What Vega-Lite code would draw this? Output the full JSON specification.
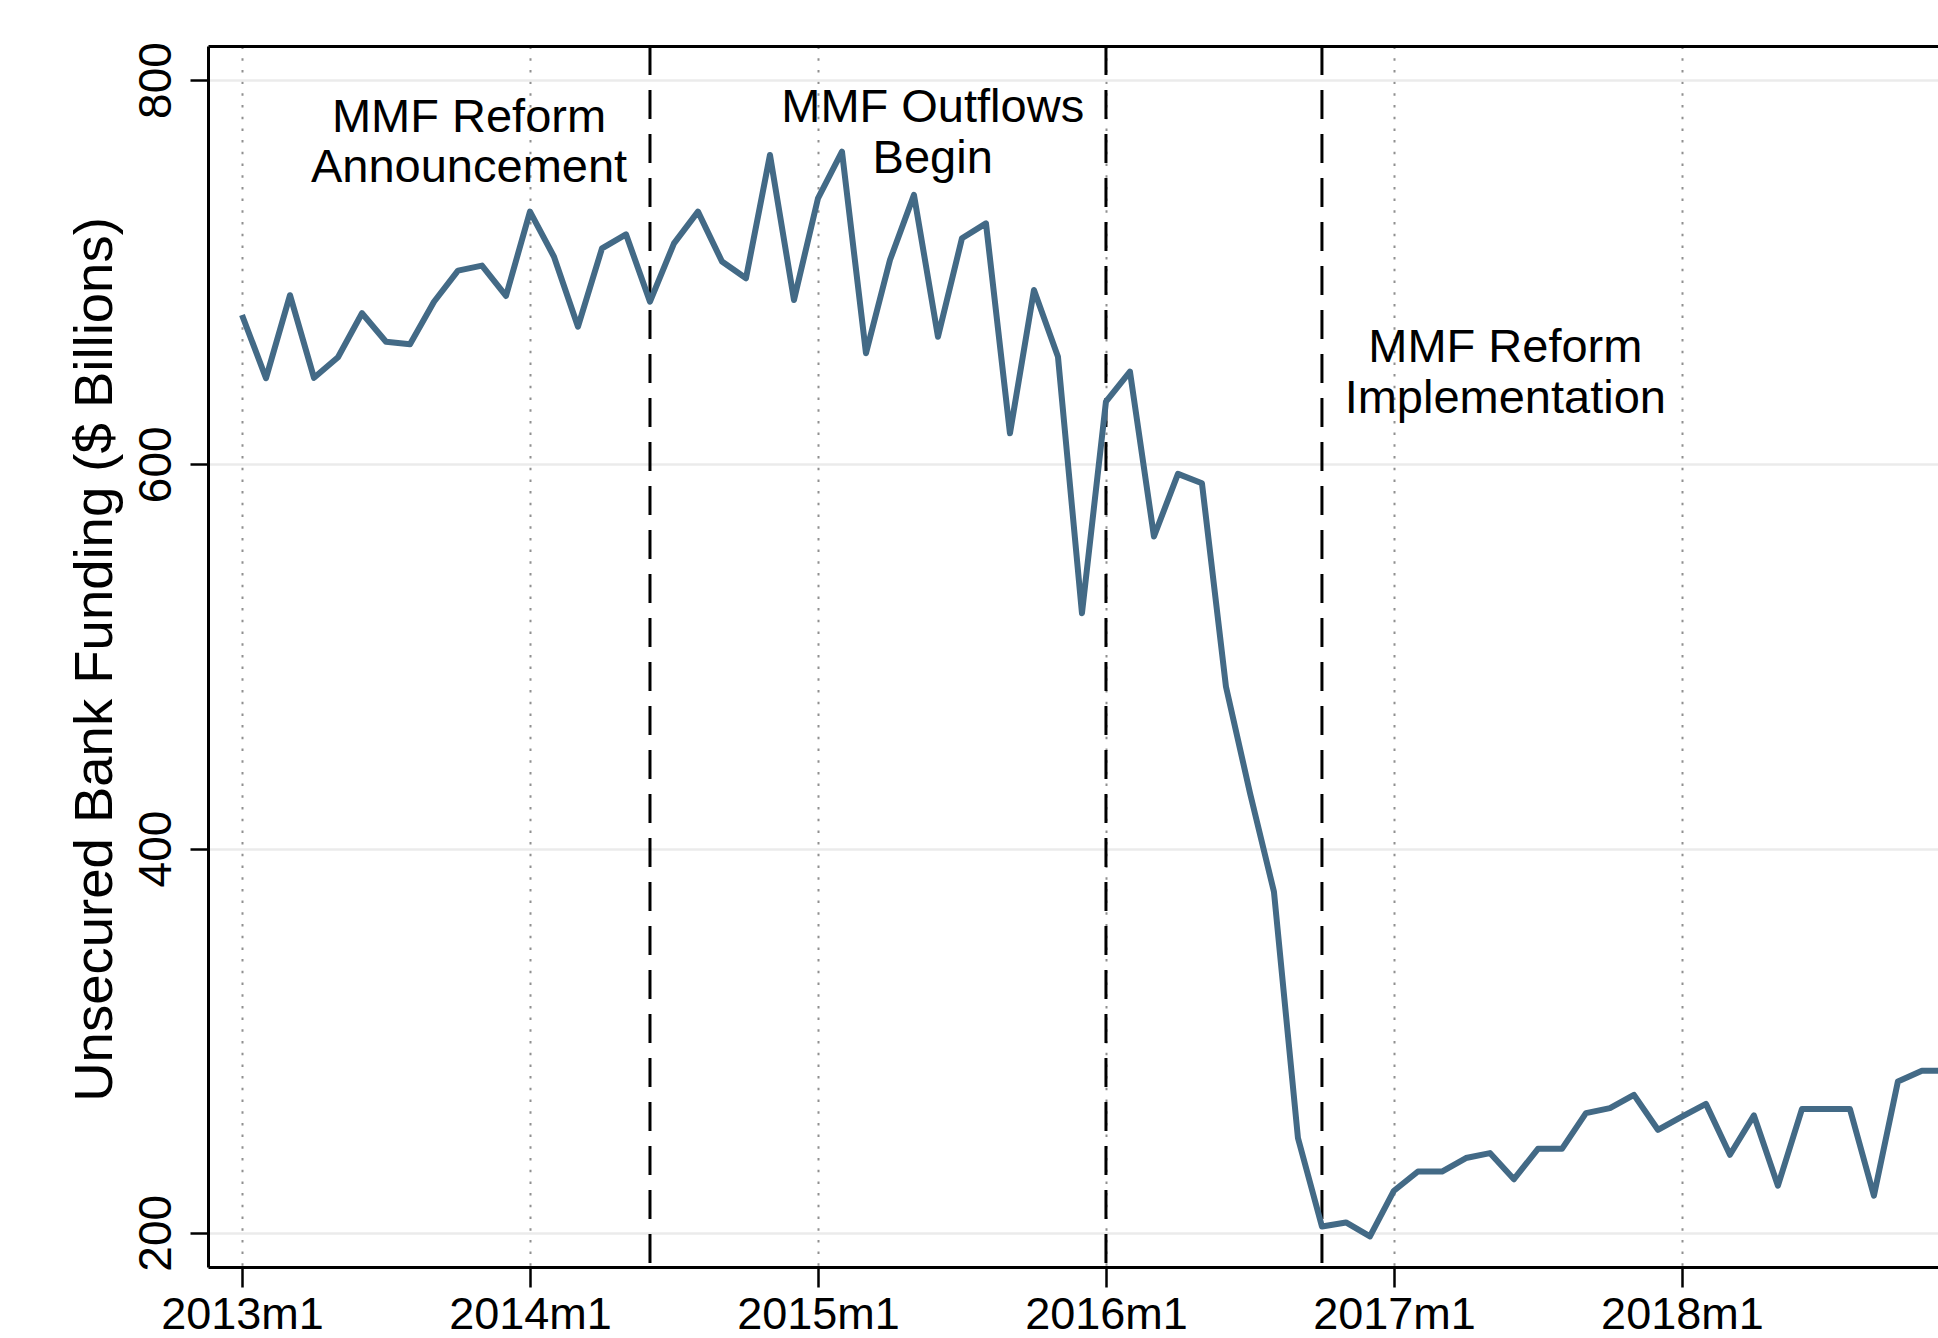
{
  "$schema": "https://vega.github.io/schema/vega-lite/v6.json",
  "width": 1730,
  "height": 1221,
  "autosize": {"type": "none"},
  "padding": {"left": 208, "top": 46, "right": 0, "bottom": 71},
  "background": "white",
  "config": {"view": {"stroke": null}, "font": "Liberation Sans"},
  "datasets": {
    "series": [
      {"t": 0, "v": 677.7}, {"t": 1, "v": 644.8}, {"t": 2, "v": 688}, {"t": 3, "v": 645},
      {"t": 4, "v": 655.7}, {"t": 5, "v": 678.6}, {"t": 6, "v": 663.8}, {"t": 7, "v": 662.5},
      {"t": 8, "v": 684.6}, {"t": 9, "v": 700.8}, {"t": 10, "v": 703.4}, {"t": 11, "v": 687.6},
      {"t": 12, "v": 731.5}, {"t": 13, "v": 708}, {"t": 14, "v": 671.6}, {"t": 15, "v": 712.4},
      {"t": 16, "v": 719.7}, {"t": 17, "v": 684.6}, {"t": 18, "v": 715}, {"t": 19, "v": 731.5},
      {"t": 20, "v": 705.5}, {"t": 21, "v": 696.8}, {"t": 22, "v": 761}, {"t": 23, "v": 685.5},
      {"t": 24, "v": 738.4}, {"t": 25, "v": 762.7}, {"t": 26, "v": 657.8}, {"t": 27, "v": 706.3},
      {"t": 28, "v": 740.2}, {"t": 29, "v": 666.4}, {"t": 30, "v": 717.6}, {"t": 31, "v": 725.4},
      {"t": 32, "v": 616.1}, {"t": 33, "v": 690.7}, {"t": 34, "v": 656}, {"t": 35, "v": 522.5},
      {"t": 36, "v": 632.6}, {"t": 37, "v": 648.2}, {"t": 38, "v": 562.4}, {"t": 39, "v": 595},
      {"t": 40, "v": 590.1}, {"t": 41, "v": 484.3}, {"t": 42, "v": 429}, {"t": 43, "v": 377.5},
      {"t": 44, "v": 249.3}, {"t": 45, "v": 203.3}, {"t": 46, "v": 205.4}, {"t": 47, "v": 198.1},
      {"t": 48, "v": 221.9}, {"t": 49, "v": 231.9}, {"t": 50, "v": 231.9}, {"t": 51, "v": 238.9},
      {"t": 52, "v": 241.5}, {"t": 53, "v": 227.9}, {"t": 54, "v": 243.7}, {"t": 55, "v": 243.7},
      {"t": 56, "v": 262.3}, {"t": 57, "v": 264.9}, {"t": 58, "v": 271.8}, {"t": 59, "v": 253.6},
      {"t": 60, "v": 260.5}, {"t": 61, "v": 267.1}, {"t": 62, "v": 240.6}, {"t": 63, "v": 261.1},
      {"t": 64, "v": 224.5}, {"t": 65, "v": 264.4}, {"t": 66, "v": 264.4}, {"t": 67, "v": 264.4},
      {"t": 68, "v": 219.3}, {"t": 69, "v": 278.8}, {"t": 70, "v": 284.3}, {"t": 71, "v": 284.3}
    ],
    "events": [
      {"event": "MMF Reform Announcement", "t": 17},
      {"event": "MMF Outflows Begin", "t": 36},
      {"event": "MMF Reform Implementation", "t": 45}
    ],
    "notes": [
      {"text": "MMF Reform", "t": 9.46, "v": 773.1},
      {"text": "Announcement", "t": 9.46, "v": 747.1},
      {"text": "MMF Outflows", "t": 28.78, "v": 778.3},
      {"text": "Begin", "t": 28.78, "v": 751.4},
      {"text": "MMF Reform", "t": 52.64, "v": 653.4},
      {"text": "Implementation", "t": 52.64, "v": 626.6}
    ]
  },
  "layer": [
    {
      "data": {"name": "events"},
      "mark": {"type": "rule", "color": "black", "strokeWidth": 3, "strokeDash": [29, 15]},
      "encoding": {
        "x": {
          "field": "t", "type": "quantitative",
          "scale": {"domain": [-1.417, 70.67], "nice": false, "zero": false},
          "axis": {"orient": "top", "labels": false, "ticks": false, "grid": false, "domain": true, "domainColor": "black", "domainWidth": 3, "title": null}
        }
      }
    },
    {
      "data": {"name": "series"},
      "mark": {"type": "line", "color": "#436a86", "strokeWidth": 6, "clip": true, "strokeJoin": "round"},
      "encoding": {
        "x": {
          "field": "t", "type": "quantitative",
          "scale": {"domain": [-1.417, 70.67], "nice": false, "zero": false},
          "axis": {
            "orient": "bottom", "values": [0, 12, 24, 36, 48, 60],
            "labelExpr": "(2013 + datum.value / 12) + 'm1'",
            "title": null, "grid": true, "gridColor": "#909090", "gridDash": [2.5, 9.2], "gridWidth": 2,
            "domainColor": "black", "domainWidth": 3, "tickColor": "black", "tickWidth": 2.5, "tickSize": 20,
            "labelFontSize": 45, "labelFont": "Liberation Sans", "labelColor": "black", "labelPadding": 41,
            "labelBaseline": "alphabetic", "labelFlush": false, "labelOverlap": false
          }
        },
        "y": {
          "field": "v", "type": "quantitative",
          "scale": {"domain": [182.2, 817.7], "nice": false, "zero": false},
          "axis": {
            "orient": "left",
            "values": [200, 400, 600, 800], "title": "Unsecured Bank Funding ($ Billions)",
            "grid": true, "gridColor": "#ebebeb", "gridWidth": 2.5,
            "domainColor": "black", "domainWidth": 3, "tickColor": "black", "tickWidth": 2.5, "tickSize": 18,
            "labelAngle": -90, "labelAlign": "center", "labelBaseline": "alphabetic", "labelPadding": 20,
            "labelFontSize": 46, "labelFont": "Liberation Sans", "labelColor": "black", "labelFlush": false, "labelOverlap": false,
            "titleFontSize": 54.5, "titleFontWeight": "normal", "titleColor": "black", "titleFont": "Liberation Sans",
            "titleX": -97, "titleY": 613, "titleBaseline": "alphabetic", "titleAngle": -90, "titleAlign": "center"
          }
        }
      }
    },
    {
      "data": {"name": "notes"},
      "mark": {"type": "text", "fontSize": 47, "font": "Liberation Sans", "baseline": "alphabetic", "align": "center", "color": "black"},
      "encoding": {
        "x": {"field": "t", "type": "quantitative", "scale": {"domain": [-1.417, 70.67], "nice": false, "zero": false}, "axis": null},
        "y": {"field": "v", "type": "quantitative", "scale": {"domain": [182.2, 817.7], "nice": false, "zero": false}, "axis": null},
        "text": {"field": "text"}
      }
    }
  ],
  "resolve": {"axis": {"x": "independent", "y": "independent"}}
}
